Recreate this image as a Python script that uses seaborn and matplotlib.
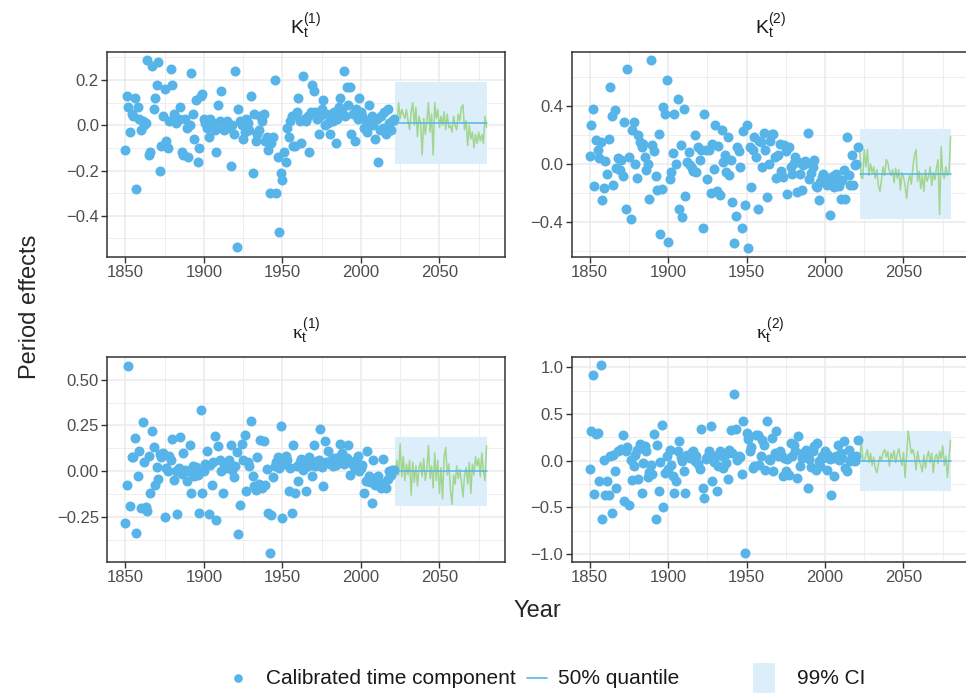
import numpy as np
import pandas as pd
import matplotlib
matplotlib.use("Agg")
import matplotlib.pyplot as plt
import seaborn as sns
from matplotlib.ticker import FixedLocator
from matplotlib.lines import Line2D
from matplotlib.patches import Rectangle

# ---------------- data ----------------
hist_years = list(range(1850, 2022))
fc_years = list(range(2022, 2081))

K1 = [
 -0.11, 0.13, 0.08, -0.03, 0.05, 0.04, 0.12, -0.28, 0.08, 0.03,
 -0.02, 0.02, 0.00, 0.01, 0.29, -0.13, -0.12, 0.26, 0.07, 0.12,
 0.18, 0.28, -0.20, -0.09, 0.04, 0.16, -0.07, -0.10, 0.02, 0.25,
 0.18, 0.05, 0.01, 0.02, 0.03, 0.08, -0.12, -0.13, 0.03, -0.01,
 -0.14, 0.00, 0.23, 0.05, -0.06, 0.11, -0.16, -0.10, 0.13, 0.14,
 0.03, 0.01, -0.01, -0.05, 0.03, 0.00, 0.01, -0.02, -0.12, 0.09,
 0.02, 0.15, 0.00, -0.02, 0.01, 0.02, -0.01, -0.18, 0.00, -0.04,
 0.24, -0.54, 0.07, 0.02, 0.00, -0.06, -0.03, 0.03, 0.01, -0.02,
 0.13, -0.21, 0.05, -0.07, -0.04, -0.02, 0.04, 0.02, 0.05, -0.07,
 -0.05, -0.11, -0.30, -0.08, -0.05, 0.20, -0.30, -0.14, -0.47, -0.21,
 -0.24, -0.12, -0.16, -0.01, -0.05, 0.02, 0.04, -0.09, -0.09, 0.06,
 0.12, 0.02, -0.08, 0.22, 0.03, 0.02, 0.04, -0.12, 0.06, 0.18,
 0.15, 0.06, 0.03, -0.04, 0.04, 0.07, 0.11, 0.00, 0.05, 0.01,
 -0.04, 0.05, 0.02, 0.06, -0.08, 0.03, 0.08, 0.12, 0.06, 0.24,
 0.04, 0.17, 0.09, 0.17, -0.04, 0.05, -0.07, 0.07, 0.03, 0.12,
 0.06, 0.04, -0.01, 0.02, -0.03, 0.09, 0.02, 0.04, 0.00, -0.06,
 0.03, -0.16, -0.02, 0.04, -0.01, 0.06, -0.04, 0.07, 0.01, -0.02,
 0.02, 0.03]

K2 = [
 0.055, 0.268, 0.383, -0.155, 0.164, 0.10, 0.042, 0.152, -0.247, -0.166,
 0.018, -0.072, 0.175, 0.533, 0.332, -0.143, 0.371, -0.028, 0.042, -0.044,
 0.03, -0.085, 0.291, -0.309, 0.655, 0.048, -0.383, 0.238, 0.291, 0.002,
 -0.097, 0.20, 0.152, 0.118, 0.141, 0.05, -0.044, 0.00, -0.240, 0.717,
 0.134, 0.088, -0.085, -0.182, 0.210, -0.482, -0.171, 0.394, 0.348, 0.579,
 -0.540, -0.102, -0.055, 0.076, 0.348, 0.002, 0.452, -0.314, 0.129, -0.367,
 0.383, -0.221, 0.014, 0.08, -0.009, -0.03, -0.051, 0.20, -0.055, 0.12,
 0.025, 0.10, -0.443, 0.348, 0.094, -0.102, 0.094, -0.198, 0.141, -0.037,
 0.268, -0.189, 0.125, -0.217, 0.233, 0.014, 0.060, -0.055, 0.187, -0.078,
 0.03, -0.263, -0.547, -0.362, 0.12, 0.088, -0.021, -0.443, 0.226, -0.281,
 0.268, -0.581, 0.118, -0.159, 0.100, 0.187, 0.048, -0.309, 0.16, 0.152,
 -0.021, 0.217, 0.10, -0.228, 0.002, 0.16, 0.210, 0.210, 0.05, -0.097,
 0.060, 0.141, -0.051, -0.090, 0.129, 0.09, -0.205, 0.118, -0.02, -0.067,
 0.009, 0.05, -0.194, 0.014, -0.067, -0.182, -0.009, 0.02, 0.009, 0.217,
 -0.102, -0.06, -0.021, 0.025, -0.152, -0.159, -0.251, -0.125, -0.090, -0.067,
 -0.125, -0.148, -0.10, -0.355, -0.097, -0.08, -0.159, -0.067, -0.102, -0.15,
 -0.240, -0.113, -0.044, -0.240, 0.187, -0.078, -0.148, 0.060, -0.148, -0.009,
 0.002, 0.118]

k1 = [
 -0.281, -0.073, 0.576, -0.191, 0.076, 0.08, 0.182, -0.336, -0.027, 0.11,
 -0.200, 0.269, 0.051, -0.196, -0.214, 0.082, -0.118, 0.222, 0.131, -0.073,
 0.022, -0.040, 0.094, 0.076, 0.10, -0.251, 0.02, 0.000, 0.085, 0.06,
 0.176, -0.045, 0.000, -0.232, 0.02, 0.185, -0.015, 0.100, 0.01, -0.054,
 0.000, 0.142, -0.118, 0.03, -0.027, 0.022, -0.02, -0.227, 0.336, -0.118,
 0.000, 0.04, 0.109, -0.232, 0.036, -0.073, 0.05, 0.191, -0.263, 0.136,
 0.06, 0.000, -0.118, 0.04, 0.018, 0.03, 0.064, 0.145, 0.01, -0.033,
 0.027, 0.105, -0.341, -0.185, 0.149, 0.064, 0.200, -0.109, 0.05, 0.027,
 0.272, -0.027, -0.08, -0.100, 0.078, -0.07, 0.173, -0.091, 0.164, -0.073,
 0.015, -0.227, -0.445, -0.236, -0.033, 0.03, 0.05, 0.076, 0.018, 0.245,
 -0.254, 0.04, 0.082, 0.06, -0.109, 0.02, -0.227, 0.142, -0.118, 0.03,
 -0.054, 0.05, 0.069, 0.009, 0.04, -0.109, 0.03, 0.076, 0.05, -0.027,
 0.142, 0.03, 0.054, 0.06, 0.232, 0.022, -0.082, 0.164, 0.05, 0.109,
 0.040, 0.06, 0.027, 0.07, 0.036, 0.05, 0.08, 0.149, 0.100, 0.04,
 0.054, 0.07, 0.142, -0.018, 0.05, 0.036, 0.02, 0.06, 0.082, 0.000,
 0.02, 0.036, -0.118, -0.05, 0.113, -0.027, -0.06, -0.173, 0.064, -0.073,
 -0.03, -0.027, -0.08, -0.091, 0.069, -0.064, -0.091, -0.04, 0.000, -0.02,
 0.01, 0.009]

k2 = [
 -0.086, 0.314, 0.921, -0.357, 0.286, 0.30, -0.221, 1.021, -0.621, 0.011,
 -0.371, -0.214, -0.371, 0.05, -0.560, 0.064, -0.107, -0.293, 0.10, 0.118,
 0.13, 0.271, -0.428, 0.107, 0.15, -0.478, 0.011, -0.204, -0.061, 0.064,
 0.12, -0.193, 0.179, -0.346, -0.025, 0.154, 0.10, -0.179, -0.121, -0.05,
 -0.143, 0.286, -0.621, 0.171, -0.328, -0.014, 0.378, -0.500, -0.132, 0.05,
 -0.086, 0.118, -0.05, -0.168, -0.346, -0.221, 0.10, 0.207, 0.036, 0.00,
 -0.107, -0.346, 0.064, 0.05, 0.029, 0.09, 0.107, -0.007, 0.05, -0.03,
 -0.086, 0.343, -0.293, -0.400, 0.02, 0.036, 0.10, 0.368, -0.214, -0.014,
 0.05, -0.328, -0.061, 0.100, 0.046, -0.079, 0.06, -0.02, -0.193, 0.118,
 0.332, 0.08, 0.714, 0.343, 0.011, 0.05, 0.036, -0.143, 0.421, -0.989,
 0.296, 0.236, 0.10, 0.143, -0.079, -0.061, 0.279, 0.271, -0.043, 0.05,
 0.225, 0.171, -0.096, 0.428, 0.02, 0.011, 0.243, -0.114, 0.08, 0.321,
 0.05, 0.100, 0.064, -0.168, 0.03, -0.114, 0.02, -0.150, 0.189, 0.05,
 0.171, 0.10, -0.186, 0.261, -0.061, 0.03, 0.082, 0.046, 0.12, -0.293,
 0.02, -0.071, 0.100, 0.154, -0.096, 0.189, 0.00, -0.061, 0.046, 0.03,
 0.100, -0.096, 0.064, 0.02, -0.371, 0.029, -0.168, 0.05, 0.164, 0.011,
 0.082, 0.03, 0.214, -0.079, -0.114, 0.118, -0.007, 0.046, 0.02, -0.007,
 0.046, 0.225]

K1_path = [
 0.02, 0.00, 0.10, 0.03, 0.07, 0.05, 0.03, 0.07, 0.02, -0.02,
 0.06, 0.10, 0.00, 0.08, -0.05, 0.04, 0.01, -0.13, 0.03, -0.04,
 0.02, 0.10, -0.03, 0.05, -0.13, 0.10, 0.03, 0.07, -0.01, 0.04,
 0.00, 0.06, -0.02, 0.05, -0.01, 0.00, -0.03, 0.04, 0.00, -0.02,
 0.05, 0.02, 0.08, 0.09, -0.02, 0.02, -0.09, 0.00, -0.06, -0.03,
 -0.10, -0.04, -0.08, -0.03, -0.07, -0.04, -0.08, 0.04, -0.01]

K2_path = [
 0.12, -0.09, -0.10, 0.10, -0.02, 0.10, -0.08, 0.00, -0.06, -0.02,
 -0.10, -0.04, -0.15, -0.19, -0.11, -0.02, -0.08, 0.03, 0.01, -0.05,
 -0.08, -0.04, -0.13, -0.03, -0.10, -0.04, -0.18, -0.06, -0.09, -0.15,
 -0.24, -0.12, -0.08, -0.14, -0.02, 0.06, 0.10, -0.12, -0.05, -0.17,
 -0.08, -0.19, -0.04, -0.12, -0.09, -0.02, -0.15, -0.06, -0.11, -0.03,
 0.03, -0.35, 0.12, -0.07, -0.10, -0.02, -0.08, -0.06, 0.19]

k1_path = [
 0.00, 0.06, -0.02, 0.15, -0.03, 0.08, -0.05, 0.04, -0.02, 0.06,
 -0.13, 0.05, -0.06, 0.03, -0.08, 0.02, 0.05, -0.03, 0.07, -0.05,
 0.01, 0.14, -0.04, 0.03, -0.09, 0.10, -0.05, 0.06, -0.12, 0.02,
 -0.15, 0.08, 0.13, -0.02, 0.04, -0.10, -0.18, -0.02, -0.07, 0.03,
 -0.04, 0.01, -0.06, -0.14, -0.02, 0.02, -0.07, 0.05, -0.12, 0.04,
 -0.02, 0.08, 0.03, 0.07, -0.03, 0.10, 0.00, -0.05, 0.14]

k2_path = [
 0.00, 0.22, 0.02, 0.00, 0.06, 0.12, -0.02, 0.08, -0.05, 0.04,
 -0.08, -0.13, -0.04, 0.05, 0.00, 0.09, 0.12, 0.04, 0.10, -0.06,
 0.08, 0.02, 0.11, -0.02, 0.07, 0.13, 0.03, -0.05, 0.09, -0.18,
 0.06, 0.32, 0.20, 0.08, 0.12, 0.05, -0.10, 0.10, 0.00, -0.05,
 -0.12, 0.06, -0.08, 0.04, 0.10, -0.02, 0.08, -0.13, 0.03, 0.07,
 -0.03, 0.10, 0.02, 0.16, -0.05, 0.05, -0.18, 0.02, 0.22]

panel_names = ["K1", "K2", "k1", "k2"]
panel_titles = [r"$\mathsf{K}_{\mathsf{t}}^{\mathsf{(1)}}$",
                r"$\mathsf{K}_{\mathsf{t}}^{\mathsf{(2)}}$",
                r"$\kappa_{\mathsf{t}}^{\mathsf{(1)}}$",
                r"$\kappa_{\mathsf{t}}^{\mathsf{(2)}}$"]
median_level = [0.01, -0.067, 0.0, 0.0]
ci_lower = [-0.169, -0.378, -0.191, -0.321]
ci_upper = [0.191, 0.245, 0.185, 0.314]
hist_values = [K1, K2, k1, k2]
path_values = [K1_path, K2_path, k1_path, k2_path]

y_ticks = [[-0.4, -0.2, 0.0, 0.2], [-0.4, 0.0, 0.4],
           [-0.25, 0.0, 0.25, 0.50], [-1.0, -0.5, 0.0, 0.5, 1.0]]
y_ticklabels = [["\u22120.4", "\u22120.2", "0.0", "0.2"],
                ["\u22120.4", "0.0", "0.4"],
                ["\u22120.25", "0.00", "0.25", "0.50"],
                ["\u22121.0", "\u22120.5", "0.0", "0.5", "1.0"]]
y_limits = [(-0.582, 0.324), (-0.644, 0.775), (-0.494, 0.623), (-1.085, 1.111)]
x_ticks = [1850, 1900, 1950, 2000, 2050]
x_minor = [1875, 1925, 1975, 2025, 2075]
legend_labels = ["Calibrated time component", "50% quantile", "99% CI"]

# ---------------- frames ----------------
hist_df = pd.concat([pd.DataFrame({"panel": p, "Year": hist_years, "value": v})
                     for p, v in zip(panel_names, hist_values)], ignore_index=True)
path_df = pd.concat([pd.DataFrame({"panel": p, "Year": fc_years, "value": v})
                     for p, v in zip(panel_names, path_values)], ignore_index=True)
fc_df = pd.concat([pd.DataFrame({"panel": p, "Year": fc_years,
                                 "median": np.full(len(fc_years), m),
                                 "lo": np.full(len(fc_years), lo),
                                 "hi": np.full(len(fc_years), hi)})
                   for p, m, lo, hi in zip(panel_names, median_level, ci_lower, ci_upper)],
                  ignore_index=True)

# ---------------- style ----------------
sns.set_theme(style="white")
plt.rcParams["font.family"] = ["Liberation Sans", "DejaVu Sans"]
plt.rcParams["mathtext.fontset"] = "custom"
plt.rcParams["mathtext.rm"] = "Liberation Sans"
plt.rcParams["mathtext.sf"] = "Liberation Sans"
plt.rcParams["mathtext.it"] = "Liberation Serif"
plt.rcParams["axes.unicode_minus"] = True

POINT = "#56B4E9"
BAND = "#DCEEFA"
GREEN = "#A2D68E"
MED = "#56B4E9"
GRID = "#EBEBEB"

W, H = 966, 693
fig = plt.figure(figsize=(W / 100, H / 100), dpi=100)

def ax_rect(l, r, t, b):
    return [l / W, 1 - b / H, (r - l) / W, (b - t) / H]

rects = [ax_rect(107.3, 504.6, 52, 257), ax_rect(571.7, 968.6, 52, 257),
         ax_rect(107.3, 504.6, 357, 562), ax_rect(571.7, 968.6, 357, 562)]

for i, p in enumerate(panel_names):
    ax = fig.add_axes(rects[i])
    h = hist_df[hist_df.panel == p]
    g = path_df[path_df.panel == p]
    f = fc_df[fc_df.panel == p]
    ax.fill_between(f["Year"], f["lo"], f["hi"], color=BAND, lw=0, zorder=1)
    sns.lineplot(data=g, x="Year", y="value", ax=ax, color=GREEN, lw=1.1, zorder=2)
    sns.lineplot(data=f, x="Year", y="median", ax=ax, color=MED, lw=1.1, zorder=3)
    sns.scatterplot(data=h, x="Year", y="value", ax=ax, color=POINT, s=52,
                    linewidth=0, zorder=4, legend=False)
    ax.set_xlim(1838.5, 2091.5)
    ax.set_ylim(*y_limits[i])
    ax.set_xticks(x_ticks)
    ax.xaxis.set_minor_locator(FixedLocator(x_minor))
    ax.set_yticks(y_ticks[i])
    ax.set_yticklabels(y_ticklabels[i])
    yt = y_ticks[i]
    step = yt[1] - yt[0]
    minors = [yt[0] - step / 2] + [t + step / 2 for t in yt]
    ax.yaxis.set_minor_locator(FixedLocator(minors))
    ax.grid(True, which="major", color=GRID, lw=1.1, zorder=0)
    ax.grid(True, which="minor", color=GRID, lw=0.6, zorder=0)
    ax.set_axisbelow(True)
    for s in ax.spines.values():
        s.set_color("#333333")
        s.set_linewidth(1.1)
    ax.tick_params(axis="both", which="major", labelsize=12, colors="#333333",
                   labelcolor="#4D4D4D", length=4, width=1, direction="out",
                   bottom=True, left=True, pad=2)
    ax.tick_params(axis="both", which="minor", length=0)
    ax.set_xlabel("")
    ax.set_ylabel("")
    ax.set_title(panel_titles[i], fontsize=14, color="#1A1A1A", pad=13)

fig.text(537 / W, 1 - 611 / H, "Year", ha="center", va="center", fontsize=17)
fig.text(30 / W, 1 - 307 / H, "Period effects", ha="center", va="center",
         rotation=90, fontsize=17)

# ---------------- legend (bottom) ----------------
ly = 1 - 678 / H
fig.add_artist(Line2D([238 / W], [ly], marker="o", color="none",
                      markerfacecolor=POINT, markeredgewidth=0, markersize=6.2,
                      transform=fig.transFigure))
fig.text(266 / W, ly, legend_labels[0], ha="left", va="center", fontsize=15,
         color="#1A1A1A")
fig.add_artist(Line2D([527 / W, 547 / W], [ly, ly], color=MED, lw=1.2,
                      transform=fig.transFigure))
fig.text(558 / W, ly, legend_labels[1], ha="left", va="center", fontsize=15,
         color="#1A1A1A")
fig.add_artist(Rectangle((753 / W, 1 - 693 / H), 22 / W, 30 / H,
                         facecolor=BAND, edgecolor="none",
                         transform=fig.transFigure))
fig.text(797 / W, ly, legend_labels[2], ha="left", va="center", fontsize=15,
         color="#1A1A1A")

fig.savefig("out.png", dpi=100)
